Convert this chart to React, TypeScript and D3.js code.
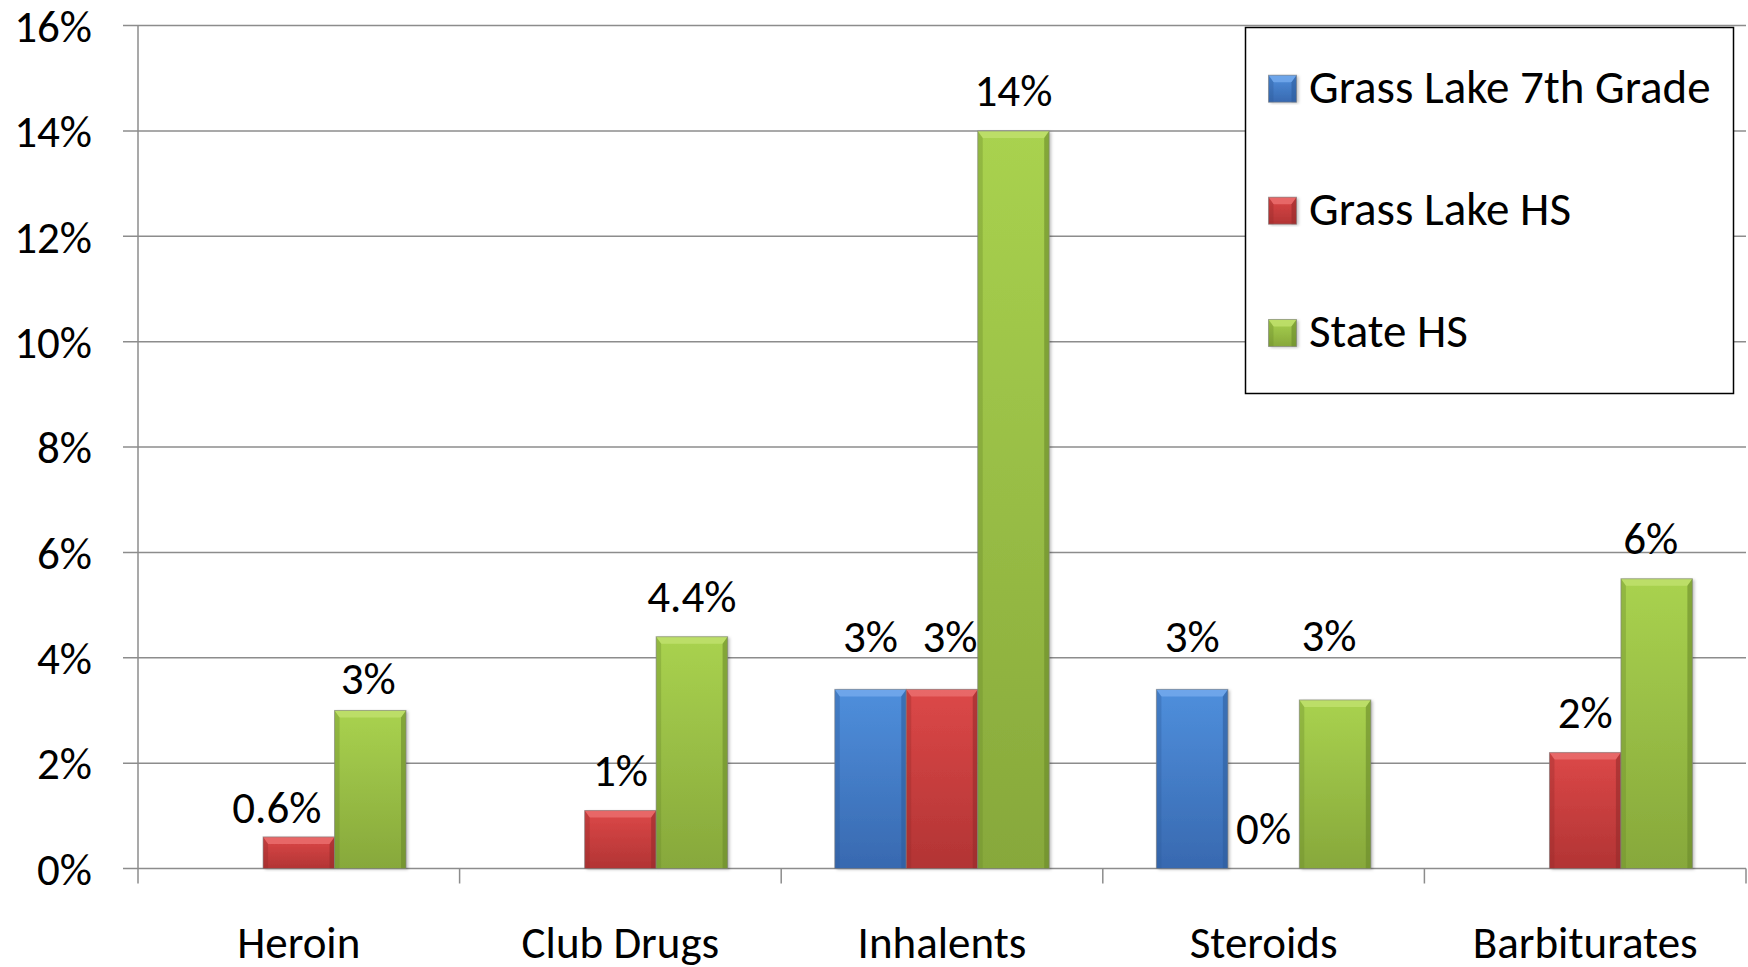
import React from "react";
import * as d3 from "d3";

const categories = ["Heroin", "Club Drugs", "Inhalents", "Steroids", "Barbiturates"];
const seriesNames = ["Grass Lake 7th Grade", "Grass Lake HS", "State HS"];
const grade7: (number | null)[] = [null, null, 3.4, 3.4, null];
const glHS: (number | null)[] = [0.6, 1.1, 3.4, 0, 2.2];
const stateHS: (number | null)[] = [3.0, 4.4, 14, 3.2, 5.5];
const grade7Labels = ["", "", "3%", "3%", ""];
const glHSLabels = ["0.6%", "1%", "3%", "0%", "2%"];
const stateHSLabels = ["3%", "4.4%", "14%", "3%", "6%"];
const yTicks = [0, 2, 4, 6, 8, 10, 12, 14, 16];

const seriesValues = [grade7, glHS, stateHS];
const seriesLabels = [grade7Labels, glHSLabels, stateHSLabels];

// manual label nudges (px) as placed in the original chart
const labelDx = [
  [0, 0, 0, 0, 0],
  [-22, 0, 8, 0, 0],
  [-2, 0, 0, -6, -6],
];
const labelDy = [
  [0, 0, -12, -12, 0],
  [11, 0, -12, 0, 0],
  [9, 0, 0, -24, 0],
];

const palette = [
  { top: "#4f8fdc", bottom: "#3869b0", bevel: "#73a9ec", side: "#2f5d9c", key: "blue" },
  { top: "#dc4848", bottom: "#b23434", bevel: "#ea6d6d", side: "#962b2b", key: "red" },
  { top: "#a9d24f", bottom: "#87a83b", bevel: "#c0e16c", side: "#6b8a2c", key: "green" },
];

const W = 1748;
const H = 967;
const left = 138;
const right = 1746;
const top = 25.6;
const bottom = 868.5;
const FONT = "Carlito, Calibri, Lato, sans-serif";

function Bar({ x, y, w, h, c }: { x: number; y: number; w: number; h: number; c: number }) {
  const p = palette[c];
  const b = Math.min(7, h / 2);
  const s = Math.min(5, w / 4);
  return (
    <g>
      <rect x={x} y={y} width={w} height={h} fill={`url(#grad-${p.key})`} filter="url(#shadow)" />
      {h > 0 && (
        <>
          <polygon
            points={`${x},${y} ${x + w},${y} ${x + w - s},${y + b} ${x + s},${y + b}`}
            fill={p.bevel}
            opacity={0.85}
          />
          <polygon
            points={`${x},${y} ${x + s},${y + b} ${x + s},${y + h} ${x},${y + h}`}
            fill={p.side}
            opacity={0.35}
          />
          <polygon
            points={`${x + w},${y} ${x + w - s},${y + b} ${x + w - s},${y + h} ${x + w},${y + h}`}
            fill={p.side}
            opacity={0.6}
          />
          <rect x={x} y={y} width={w} height={h} fill="none" stroke="#7f7f7f" strokeOpacity={0.6} strokeWidth={1} />
        </>
      )}
    </g>
  );
}

export default function App() {
  const x0 = d3.scaleBand<string>().domain(categories).range([left, right]).paddingInner(0).paddingOuter(0);
  const inner = d3
    .scaleBand<string>()
    .domain(seriesNames)
    .range([0, x0.bandwidth()])
    .paddingInner(0)
    .paddingOuter(0.75);
  const y = d3.scaleLinear().domain([0, 16]).range([bottom, top]);

  const legendY = [88.7, 210.7, 333];

  return (
    <svg
      width={W}
      height={H}
      style={{ position: "absolute", left: 0, top: 0, background: "#fff" }}
      fontFamily={FONT}
    >
      <defs>
        {palette.map((p) => (
          <linearGradient key={p.key} id={`grad-${p.key}`} x1="0" y1="0" x2="0" y2="1">
            <stop offset="0" stopColor={p.top} />
            <stop offset="1" stopColor={p.bottom} />
          </linearGradient>
        ))}
        <filter id="shadow" x="-10%" y="-10%" width="130%" height="120%">
          <feDropShadow dx="2" dy="1" stdDeviation="1.5" floodColor="#000" floodOpacity="0.25" />
        </filter>
      </defs>

      {/* gridlines */}
      {yTicks.map((t) => (
        <g key={t}>
          <line x1={left - 15} x2={right} y1={y(t)} y2={y(t)} stroke="#8c8c8c" strokeWidth={1.5} />
          <text x={92} y={y(t)} dy="0.36em" textAnchor="end" fontSize={45} fill="#000">
            {`${t}%`}
          </text>
        </g>
      ))}
      {/* y axis */}
      <line x1={left} x2={left} y1={top} y2={bottom} stroke="#8c8c8c" strokeWidth={1.5} />
      {/* x ticks */}
      {categories.map((c) => (
        <line key={c} x1={x0(c)!} x2={x0(c)!} y1={bottom} y2={bottom + 15} stroke="#8c8c8c" strokeWidth={1.5} />
      ))}
      <line x1={right} x2={right} y1={bottom} y2={bottom + 15} stroke="#8c8c8c" strokeWidth={1.5} />

      {/* bars */}
      {categories.map((c, ci) =>
        seriesNames.map((s, si) => {
          const v = seriesValues[si][ci];
          if (v === null) return null;
          const bx = x0(c)! + inner(s)!;
          const bw = inner.bandwidth();
          return <Bar key={c + s} x={bx} y={y(v)} w={bw} h={y(0) - y(v)} c={si} />;
        })
      )}

      {/* labels */}
      {categories.map((c, ci) =>
        seriesNames.map((s, si) => {
          const v = seriesValues[si][ci];
          const lab = seriesLabels[si][ci];
          if (v === null || !lab) return null;
          const cx = x0(c)! + inner(s)! + inner.bandwidth() / 2 + labelDx[si][ci];
          return (
            <text
              key={"l" + c + s}
              x={cx}
              y={y(v) - 25 + labelDy[si][ci]}
              textAnchor="middle"
              fontSize={45}
              fill="#000"
            >
              {lab}
            </text>
          );
        })
      )}

      {/* category labels */}
      {categories.map((c) => (
        <text key={"c" + c} x={x0(c)! + x0.bandwidth() / 2} y={958} textAnchor="middle" fontSize={45} fill="#000">
          {c}
        </text>
      ))}

      {/* legend */}
      <rect x={1245.5} y={27.5} width={488} height={366} fill="#fff" stroke="#000" strokeWidth={1.5} />
      {seriesNames.map((s, si) => (
        <g key={"lg" + s}>
          <Bar x={1268.5} y={legendY[si] - 13.5} w={28} h={27} c={si} />
          <text x={1309} y={legendY[si] - 2} dy="0.35em" fontSize={47} fill="#000">
            {s}
          </text>
        </g>
      ))}
    </svg>
  );
}
